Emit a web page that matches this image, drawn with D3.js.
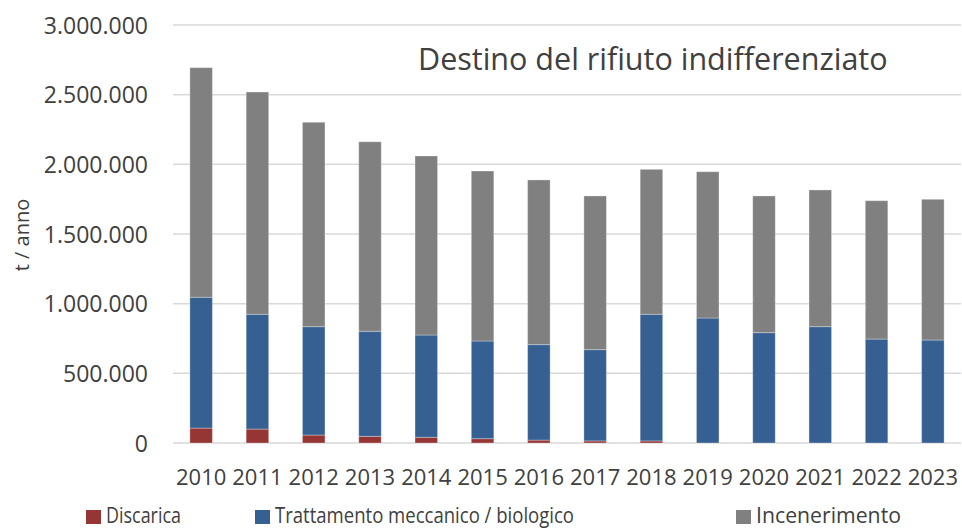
<!DOCTYPE html>
<html>
<head>
<meta charset="utf-8">
<script src="https://cdn.jsdelivr.net/npm/d3@7"></script>
<style>
  body { margin: 0; background: #fff; }
  svg { display: block; }
</style>
</head>
<body>
<div id="chart"></div>
<script>
// data (tonnes / year)
let years = ['2010','2011','2012','2013','2014','2015','2016','2017','2018','2019','2020','2021','2022','2023'];
let discarica = [107000, 100000, 57000, 48000, 41000, 31000, 21000, 15000, 15000, 0, 0, 0, 0, 0];
let trattamento = [939000, 824000, 778000, 754000, 734000, 701000, 685000, 655000, 909000, 897000, 792000, 835000, 746000, 739000];
let incenerimento = [1648000, 1595000, 1467000, 1360000, 1285000, 1220000, 1182000, 1103000, 1040000, 1050000, 981000, 981000, 993000, 1010000];
let seriesNames = ['Discarica', 'Trattamento meccanico / biologico', 'Incenerimento'];
let seriesKeys = ['discarica', 'trattamento', 'incenerimento'];
let yTicks = [0, 500000, 1000000, 1500000, 2000000, 2500000, 3000000];

//DIMENSIONS
let width = 962,
  height = 529;
let plotLeft = 173, plotRight = 961, plotTop = 25, plotBottom = 443;

let colors = d3.scaleOrdinal().domain(seriesKeys).range(['#963634', '#366092', '#808080']);

let rows = years.map((y, i) => ({
  year: y,
  discarica: discarica[i],
  trattamento: trattamento[i],
  incenerimento: incenerimento[i]
}));

let stacked = d3.stack().keys(seriesKeys)(rows);

let xScale = d3.scaleBand()
  .domain(years)
  .range([plotLeft, plotRight])
  .paddingInner(0.6)
  .paddingOuter(0.3);

let yScale = d3.scaleLinear()
  .domain([0, 3000000])
  .range([plotBottom, plotTop]);

// thousands with dots, italian style
let fmt = d => d3.format(',')(d).replace(/,/g, '.');

let svg = d3.select('#chart')
  .append('svg')
  .attr('width', width)
  .attr('height', height)
  .style('font-family', '"Open Sans", sans-serif');

// gridlines
svg.append('g')
  .selectAll('line')
  .data(yTicks)
  .enter()
  .append('line')
  .attr('x1', plotLeft)
  .attr('x2', plotRight)
  .attr('y1', d => yScale(d))
  .attr('y2', d => yScale(d))
  .style('stroke', '#d9d9d9')
  .style('stroke-width', 1.5);

// y axis labels
let yAxis = d3.axisLeft(yScale).tickValues(yTicks).tickFormat(fmt).tickSize(0).tickPadding(25);
svg.append('g')
  .attr('transform', `translate(${plotLeft}, 0)`)
  .call(yAxis)
  .call(g => g.select('.domain').remove())
  .call(g => g.selectAll('text')
    .attr('dy', '0.36em')
    .style('font-size', '23px')
    .style('fill', '#404040')
    .style('font-family', '"Open Sans", sans-serif'));

// bars
svg.append('g')
  .selectAll('g')
  .data(stacked)
  .enter()
  .append('g')
  .style('fill', d => colors(d.key))
  .selectAll('rect')
  .data(d => d)
  .enter()
  .append('rect')
  .attr('x', d => xScale(d.data.year))
  .attr('width', xScale.bandwidth())
  .attr('y', d => yScale(d[1]))
  .attr('height', d => yScale(d[0]) - yScale(d[1]))
  .style('stroke', '#ffffff')
  .style('stroke-opacity', 0.3)
  .style('stroke-width', 1);

// x axis labels
let xAxis = d3.axisBottom(xScale).tickSize(0).tickPadding(26);
svg.append('g')
  .attr('transform', `translate(0, ${plotBottom})`)
  .call(xAxis)
  .call(g => g.select('.domain').remove())
  .call(g => g.selectAll('text')
    .style('font-size', '22px')
    .style('fill', '#404040')
    .style('font-family', '"Open Sans", sans-serif'));

// y title
svg.append('text')
  .attr('transform', 'translate(29, 235) rotate(-90)')
  .attr('text-anchor', 'middle')
  .style('font-size', '20px')
  .style('fill', '#404040')
  .text('t / anno');

// chart title
svg.append('text')
  .attr('x', 418)
  .attr('y', 70)
  .style('font-size', '30.5px')
  .style('fill', '#404040')
  .text('Destino del rifiuto indifferenziato');

// legend
let legendX = [86, 255, 736];
let legendW = [75, 299, 145];
let legend = svg.append('g')
  .selectAll('g')
  .data(seriesKeys)
  .enter()
  .append('g')
  .attr('transform', (d, i) => `translate(${legendX[i]}, 0)`);

legend.append('rect')
  .attr('x', 0)
  .attr('y', 510)
  .attr('width', 15)
  .attr('height', 14)
  .style('fill', d => colors(d));

legend.append('text')
  .attr('x', 20)
  .attr('y', 523)
  .attr('textLength', (d, i) => legendW[i])
  .attr('lengthAdjust', 'spacingAndGlyphs')
  .style('font-size', '21px')
  .style('fill', '#404040')
  .text((d, i) => seriesNames[i]);
</script>
</body>
</html>
